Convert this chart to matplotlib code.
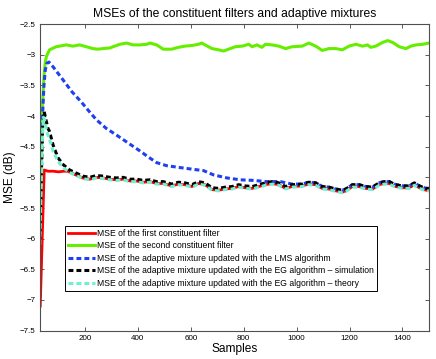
import numpy as np
import matplotlib
matplotlib.use("Agg")
import matplotlib.pyplot as plt
from matplotlib.ticker import FuncFormatter

plt.rcParams["font.family"] = ["Liberation Sans", "DejaVu Sans"]

# values (samples, MSE in dB)
red_x = [31, 46, 60, 80, 100, 120, 135, 150, 170, 192, 218, 243, 268, 294, 319, 344, 370, 395,
         420, 446, 471, 496, 528, 553, 578, 604, 629, 654, 680, 705, 730, 756, 781, 806, 832,
         857, 882, 907, 933, 958, 983, 1021, 1046, 1072, 1097, 1122, 1148, 1173, 1186, 1211,
         1236, 1261, 1287, 1312, 1331, 1350, 1375, 1401, 1426, 1445, 1464, 1489, 1500]
red_y = [-7.10, -4.88, -4.90, -4.90, -4.91, -4.90, -4.90, -4.93, -4.97, -5.01, -5.03, -5.00,
         -5.01, -5.03, -5.04, -5.03, -5.06, -5.06, -5.08, -5.07, -5.10, -5.10, -5.14, -5.11,
         -5.12, -5.15, -5.10, -5.12, -5.20, -5.21, -5.19, -5.18, -5.15, -5.17, -5.18, -5.15,
         -5.12, -5.10, -5.12, -5.18, -5.15, -5.14, -5.11, -5.12, -5.18, -5.19, -5.22, -5.24,
         -5.22, -5.15, -5.15, -5.18, -5.19, -5.12, -5.10, -5.10, -5.15, -5.17, -5.17, -5.12,
         -5.17, -5.21, -5.21]

green_x = [29, 35, 40, 45, 50, 55, 66, 91, 129, 155, 180, 205, 230, 249, 268, 294, 306, 332,
           357, 382, 408, 433, 446, 471, 496, 515, 528, 553, 578, 604, 629, 642, 654, 680, 705,
           724, 743, 768, 794, 819, 832, 850, 869, 882, 907, 933, 958, 983, 1021, 1046, 1072,
           1097, 1122, 1148, 1173, 1198, 1224, 1249, 1268, 1280, 1299, 1325, 1344, 1363, 1388,
           1413, 1432, 1451, 1477, 1500]
green_y = [-5.90, -4.60, -3.80, -3.35, -3.12, -3.02, -2.92, -2.87, -2.84, -2.86, -2.84, -2.87,
           -2.90, -2.91, -2.90, -2.89, -2.87, -2.83, -2.81, -2.84, -2.84, -2.83, -2.81, -2.84,
           -2.91, -2.91, -2.91, -2.88, -2.86, -2.85, -2.83, -2.81, -2.84, -2.90, -2.92, -2.94,
           -2.91, -2.87, -2.86, -2.83, -2.87, -2.84, -2.88, -2.83, -2.84, -2.86, -2.90, -2.87,
           -2.86, -2.81, -2.86, -2.93, -2.90, -2.90, -2.92, -2.86, -2.83, -2.86, -2.84, -2.88,
           -2.86, -2.80, -2.77, -2.80, -2.87, -2.90, -2.86, -2.84, -2.83, -2.81]

blue_x = [29, 35, 40, 45, 50, 56, 64, 80, 117, 150, 186, 215, 243, 280, 319, 360, 408, 440,
          471, 509, 559, 610, 648, 686, 737, 787, 837, 888, 939, 983, 1021, 1046, 1072, 1097,
          1122, 1148, 1173, 1186, 1211, 1236, 1261, 1287, 1312, 1331, 1350, 1375, 1401, 1426,
          1445, 1464, 1489, 1500]
blue_y = [-6.00, -4.90, -3.95, -3.50, -3.25, -3.14, -3.12, -3.20, -3.41, -3.60, -3.77, -3.92,
          -4.06, -4.20, -4.31, -4.43, -4.57, -4.67, -4.76, -4.81, -4.84, -4.87, -4.89, -4.96,
          -5.01, -5.04, -5.05, -5.07, -5.07, -5.11, -5.11, -5.08, -5.09, -5.15, -5.16, -5.19,
          -5.21, -5.19, -5.12, -5.12, -5.15, -5.16, -5.09, -5.07, -5.07, -5.12, -5.14, -5.14,
          -5.09, -5.14, -5.18, -5.18]

black_x = [29, 35, 40, 46, 52, 60, 66, 80, 98, 117, 142, 167, 192, 218, 243, 268, 294, 319,
           344, 370, 395, 420, 446, 471, 496, 528, 553, 578, 604, 629, 654, 680, 705, 730, 756,
           781, 806, 832, 857, 882, 907, 933, 958, 983, 1021, 1046, 1072, 1097, 1122, 1148,
           1173, 1186, 1211, 1236, 1261, 1287, 1312, 1331, 1350, 1375, 1401, 1426, 1445, 1464,
           1489, 1500]
black_y = [-6.00, -5.00, -4.20, -3.93, -4.05, -4.20, -4.25, -4.48, -4.68, -4.79, -4.88, -4.93,
           -4.98, -5.00, -4.97, -4.98, -5.00, -5.01, -5.00, -5.03, -5.03, -5.05, -5.04, -5.07,
           -5.07, -5.11, -5.08, -5.09, -5.12, -5.07, -5.09, -5.17, -5.18, -5.16, -5.15, -5.12,
           -5.14, -5.15, -5.12, -5.09, -5.07, -5.09, -5.15, -5.12, -5.11, -5.08, -5.09, -5.15,
           -5.16, -5.19, -5.21, -5.19, -5.12, -5.12, -5.15, -5.16, -5.09, -5.07, -5.07, -5.12,
           -5.14, -5.14, -5.09, -5.14, -5.18, -5.18]

cyan_x = [29, 35, 40, 43, 48, 55, 66, 80, 98, 117, 142, 167, 192, 218, 243, 268, 294, 319,
          344, 370, 395, 420, 446, 471, 496, 528, 553, 578, 604, 629, 654, 680, 705, 730, 756,
          781, 806, 832, 857, 882, 907, 933, 958, 983, 1021, 1046, 1072, 1097, 1122, 1148,
          1173, 1186, 1211, 1236, 1261, 1287, 1312, 1331, 1350, 1375, 1401, 1426, 1445, 1464,
          1489, 1500]
cyan_y = [-6.10, -5.10, -4.25, -4.02, -4.08, -4.25, -4.38, -4.58, -4.74, -4.84, -4.92, -4.97,
          -5.02, -5.04, -5.01, -5.02, -5.04, -5.05, -5.04, -5.07, -5.07, -5.09, -5.08, -5.11,
          -5.11, -5.15, -5.12, -5.13, -5.16, -5.11, -5.13, -5.21, -5.22, -5.20, -5.19, -5.16,
          -5.18, -5.19, -5.16, -5.13, -5.11, -5.13, -5.19, -5.16, -5.15, -5.12, -5.13, -5.19,
          -5.20, -5.23, -5.25, -5.23, -5.16, -5.16, -5.19, -5.20, -5.13, -5.11, -5.11, -5.16,
          -5.18, -5.18, -5.13, -5.18, -5.22, -5.22]

labels = ["MSE of the first constituent filter",
          "MSE of the second constituent filter",
          "MSE of the adaptive mixture updated with the LMS algorithm",
          "MSE of the adaptive mixture updated with the EG algorithm \u2013 simulation",
          "MSE of the adaptive mixture updated with the EG algorithm \u2013 theory"]

fig = plt.figure(figsize=(4.36, 3.59), dpi=100)
ax = fig.add_axes([0.0917, 0.079, 0.892, 0.854])

dash = (1.6, 1.0)
ax.plot(red_x, red_y, color="#ff0000", lw=2.0, label=labels[0])
ax.plot(green_x, green_y, color="#66ee00", lw=2.2, label=labels[1])
ax.plot(blue_x, blue_y, color="#2040f0", lw=2.2, dashes=dash, label=labels[2])
ax.plot(black_x, black_y, color="black", lw=2.2, dashes=dash, label=labels[3])
ax.plot(cyan_x, cyan_y, color="#70f0d0", lw=2.2, dashes=dash, label=labels[4])

ax.set_xlim(30, 1500)
ax.set_ylim(-7.5, -2.5)
ax.set_xticks(np.arange(200, 1401, 200))
ax.set_yticks(np.arange(-7.5, -2.49, 0.5))
ax.yaxis.set_major_formatter(FuncFormatter(lambda v, p: ("%g" % v).replace("-", "\u2212")))
ax.tick_params(direction="in", length=3, width=0.6, labelsize=5.8, top=True, right=True,
               colors="#404040", labelcolor="black", pad=3)
for s in ax.spines.values():
    s.set_color("#505050")
    s.set_linewidth(0.8)

ax.set_title("MSEs of the constituent filters and adaptive mixtures", fontsize=8.7, pad=5)
ax.set_xlabel("Samples", fontsize=8.6, labelpad=1)
ax.set_ylabel("MSE (dB)", fontsize=8.6, labelpad=3)

leg = ax.legend(loc="lower left", bbox_to_anchor=(0.064, 0.13), borderaxespad=0,
                fontsize=6.2, fancybox=False, edgecolor="black", framealpha=1,
                handlelength=3.1, handletextpad=0.3, labelspacing=0.4, borderpad=0.35)
leg.get_frame().set_linewidth(0.7)

fig.savefig("out.png", dpi=100)
